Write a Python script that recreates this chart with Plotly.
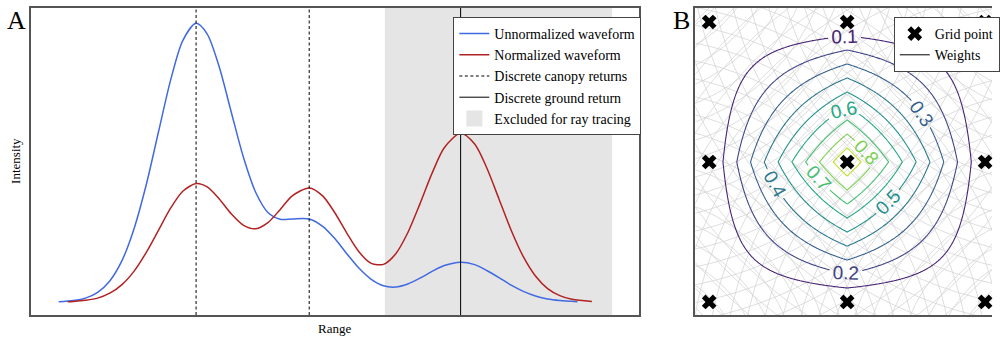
import numpy as np
import plotly.graph_objects as go

# ---------------- Panel A: waveforms ----------------
range_blue = [4.6, 7, 9, 11, 13, 15, 17, 19, 21, 23, 25, 27.19, 29, 31, 33, 35, 37, 39, 41, 43,
              45.79, 48, 50, 52, 54, 56, 58, 60, 62, 64, 66, 68, 70.69, 73, 75, 77, 79, 81, 83,
              85, 87, 89.9]
int_blue = [0.043, 0.047, 0.055, 0.074, 0.111, 0.177, 0.282, 0.425, 0.596, 0.765, 0.894, 0.950,
            0.916, 0.808, 0.659, 0.512, 0.399, 0.334, 0.312, 0.313, 0.313, 0.289, 0.249, 0.199,
            0.152, 0.116, 0.095, 0.091, 0.101, 0.120, 0.142, 0.161, 0.172, 0.164, 0.145, 0.122,
            0.097, 0.077, 0.062, 0.052, 0.047, 0.043]

range_red = [6.08, 7, 9, 11, 13, 15, 17, 19, 21, 23, 25, 27.19, 29, 31, 33, 35, 37, 39, 41, 43,
             45.79, 48, 50, 52, 54, 56, 58, 60, 62, 64, 66, 68, 70.69, 73, 75, 77, 79, 81, 83,
             85, 87, 89, 92.28]
int_red = [0.043, 0.044, 0.048, 0.055, 0.071, 0.099, 0.143, 0.204, 0.276, 0.348, 0.403, 0.428,
           0.417, 0.378, 0.329, 0.292, 0.281, 0.301, 0.343, 0.388, 0.414, 0.388, 0.333, 0.266,
           0.205, 0.168, 0.165, 0.199, 0.268, 0.362, 0.462, 0.545, 0.592, 0.557, 0.479, 0.378,
           0.276, 0.190, 0.127, 0.086, 0.063, 0.051, 0.044]

canopy_returns = [27.19, 45.79]
ground_return = 70.69
excluded_span = [58.24, 95.60]

# ---------------- Panel B: interpolation weights ----------------
grid_x = [0.0, 1.0, 2.0]
grid_y = [0.0, 1.0, 2.0]
grid_weights = [[0.0, 0.0, 0.0],
                [0.0, 1.0, 0.0],
                [0.0, 0.0, 0.0]]
weight_levels = [0.1, 0.2, 0.3, 0.4, 0.5, 0.6, 0.7, 0.8, 0.9]

# viridis sampled at the weight levels
level_colors = ["#482475", "#414487", "#355f8d", "#2a788e", "#21918c",
                "#22a884", "#44bf70", "#7ad151", "#bddf26"]

SERIF = "Liberation Serif, DejaVu Serif, serif"
SANS = "Liberation Sans, Arial, sans-serif"
AX_COLOR = "#555555"

fig = go.Figure()

fig.add_trace(go.Scatter(x=range_blue, y=int_blue, mode="lines", name="Unnormalized waveform",
                         line=dict(color="#4169e1", width=1.5, shape="spline", smoothing=0.8),
                         xaxis="x", yaxis="y", legend="legend"))
fig.add_trace(go.Scatter(x=range_red, y=int_red, mode="lines", name="Normalized waveform",
                         line=dict(color="#b22222", width=1.5, shape="spline", smoothing=0.8),
                         xaxis="x", yaxis="y", legend="legend"))

cx, cy = [], []
for r in canopy_returns:
    cx += [r, r, None]
    cy += [0, 1, None]
fig.add_trace(go.Scatter(x=cx, y=cy, mode="lines", name="Discrete canopy returns",
                         line=dict(color="black", width=1, dash="3px,2.5px"),
                         xaxis="x", yaxis="y", legend="legend"))
fig.add_trace(go.Scatter(x=[ground_return, ground_return], y=[0, 1], mode="lines",
                         name="Discrete ground return", line=dict(color="black", width=1),
                         xaxis="x", yaxis="y", legend="legend"))
fig.add_trace(go.Scatter(x=[None], y=[None], mode="markers", name="Excluded for ray tracing",
                         marker=dict(symbol="square", size=17, color="#e5e5e5"),
                         xaxis="x", yaxis="y", legend="legend"))

fig.add_shape(type="rect", xref="x", yref="y domain", x0=excluded_span[0], x1=excluded_span[1],
              y0=0, y1=1, fillcolor="#e5e5e5", line=dict(width=0), layer="below")

# weight field over the cell, bilinear between grid nodes
gx = np.linspace(-0.1, 2.1, 221)
gy = np.linspace(-0.1, 2.1, 221)
gw = np.array(grid_weights)
rows = np.array([np.interp(gx, grid_x, gw[i]) for i in range(len(grid_y))])
field = np.array([np.interp(gy, grid_y, rows[:, j]) for j in range(len(gx))]).T

# background mesh: rings around four far-off centres
ring_centres = [(-0.6, -0.6), (2.6, -0.6), (-0.6, 2.7), (2.6, 2.7)]
ring_step = 0.125
for (rx, ry) in ring_centres:
    for rad in np.arange(ring_step, 4.0, ring_step):
        fig.add_shape(type="circle", xref="x2", yref="y2",
                      x0=rx - rad, x1=rx + rad, y0=ry - rad, y1=ry + rad,
                      line=dict(color="#d6d6d6", width=0.8), layer="below")

n_lev = len(weight_levels)
colorscale = [[i / (n_lev - 1), c] for i, c in enumerate(level_colors)]
fig.add_trace(go.Contour(x=gx, y=gy, z=field, xaxis="x2", yaxis="y2",
                         colorscale=colorscale, showscale=False,
                         contours=dict(start=weight_levels[0], end=weight_levels[-1],
                                       size=0.1, coloring="lines", showlabels=True,
                                       labelfont=dict(family=SANS, size=19)),
                         line=dict(width=1.1), showlegend=False, hoverinfo="skip"))

gpx, gpy = [], []
for yv in grid_y:
    for xv in grid_x:
        gpx.append(xv)
        gpy.append(yv)
fig.add_trace(go.Scatter(x=gpx, y=gpy, mode="markers", name="Grid point",
                         marker=dict(symbol="x", size=13, color="black"),
                         cliponaxis=False, xaxis="x2", yaxis="y2", legend="legend2"))
fig.add_trace(go.Scatter(x=[None], y=[None], mode="lines", name="Weights",
                         line=dict(color="black", width=1),
                         xaxis="x2", yaxis="y2", legend="legend2"))

ydom = [27 / 342, 334 / 342]
fig.update_layout(
    width=1000, height=342, margin=dict(l=0, r=0, t=0, b=0),
    paper_bgcolor="white", plot_bgcolor="white",
    font=dict(family=SERIF, size=14, color="black"),
    xaxis=dict(domain=[0.031, 0.644], range=[0, 100], showticklabels=False, ticks="",
               showgrid=False, zeroline=False, showline=True, mirror=True,
               linecolor=AX_COLOR, linewidth=1.5),
    yaxis=dict(domain=ydom, range=[0, 1], showticklabels=False, ticks="",
               showgrid=False, zeroline=False, showline=True, mirror=True,
               linecolor=AX_COLOR, linewidth=1.5),
    xaxis2=dict(domain=[0.701, 1.0], range=[-0.1, 2.05], showticklabels=False, ticks="",
                showgrid=False, zeroline=False, showline=True, mirror=True,
                linecolor=AX_COLOR, linewidth=1.5),
    yaxis2=dict(domain=ydom, range=[-0.093, 2.1], showticklabels=False, ticks="",
                showgrid=False, zeroline=False, showline=True, mirror=False,
                linecolor=AX_COLOR, linewidth=1.5, anchor="x2"),
    legend=dict(x=0.457, y=1 - 17 / 342, xanchor="left", yanchor="top",
                bgcolor="white", bordercolor="#444444", borderwidth=1,
                font=dict(family=SERIF, size=14), itemwidth=30, tracegroupgap=0),
    legend2=dict(x=0.901, y=1 - 17 / 342, xanchor="left", yanchor="top",
                 bgcolor="white", bordercolor="#444444", borderwidth=1,
                 font=dict(family=SERIF, size=14), itemwidth=30),
    showlegend=True,
    annotations=[
        dict(text="A", x=0.017, y=1 - 20 / 342, xref="paper", yref="paper",
             showarrow=False, font=dict(family=SERIF, size=26), xanchor="center", yanchor="middle"),
        dict(text="B", x=0.687, y=1 - 20 / 342, xref="paper", yref="paper",
             showarrow=False, font=dict(family=SERIF, size=26), xanchor="center", yanchor="middle"),
        dict(text="Range", x=(0.031 + 0.644) / 2, y=1 - 328 / 342, xref="paper", yref="paper",
             showarrow=False, font=dict(family=SERIF, size=13), xanchor="center", yanchor="middle"),
        dict(text="Intensity", x=0.015, y=1 - 161 / 342, xref="paper", yref="paper",
             showarrow=False, textangle=-90, font=dict(family=SERIF, size=13),
             xanchor="center", yanchor="middle"),
    ],
)

fig.write_html("out.html")
